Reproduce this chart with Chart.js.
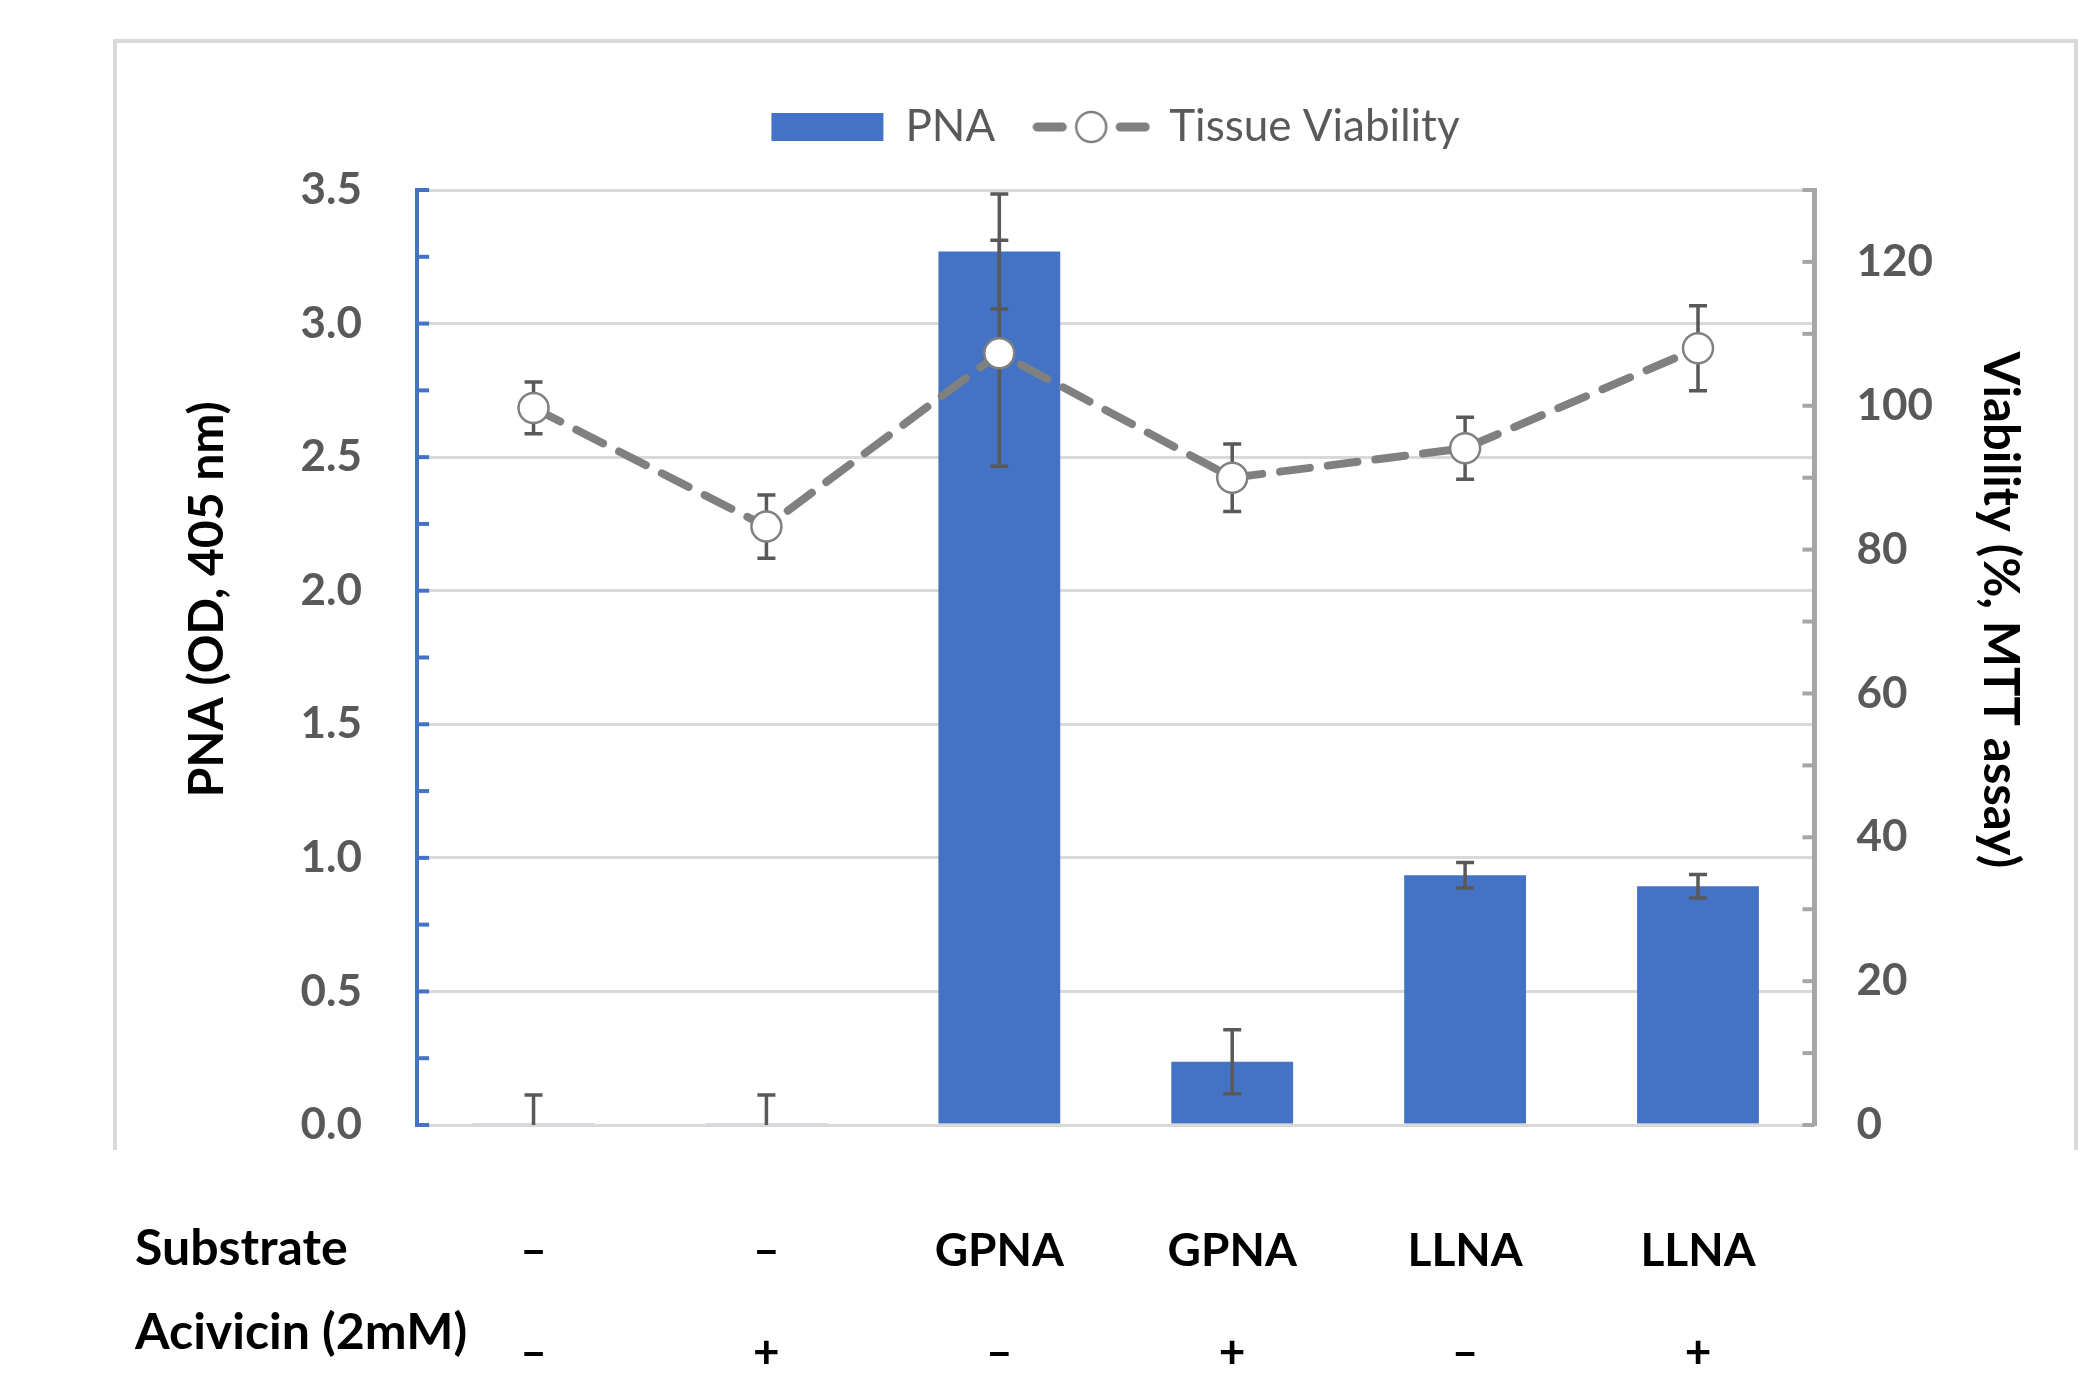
<!DOCTYPE html>
<html>
<head>
<meta charset="utf-8">
<script src="https://cdn.jsdelivr.net/npm/chart.js@4/dist/chart.umd.min.js"></script>
<style>
  html, body { margin: 0; padding: 0; background: #fff; }
  #wrap { width: 2097px; height: 1374px; }
</style>
</head>
<body>
<div id="wrap"><canvas id="pnaChart" width="2097" height="1374"></canvas></div>
<script>
// values
const substrate = ['–', '–', 'GPNA', 'GPNA', 'LLNA', 'LLNA'];
const acivicin = ['–', '+', '–', '+', '–', '+'];
const rowHeaders = ['Substrate', 'Acivicin (2mM)'];
const pnaValues = [0.005, 0.005, 3.27, 0.237, 0.935, 0.894];
const pnaErrors = [0.107, 0.107, 0.215, 0.12, 0.048, 0.044];
const viabilityValues = [99.7, 83.2, 107.3, 90.0, 94.1, 108.0];
const viabilityErrors = [3.6, 4.4, 15.7, 4.7, 4.3, 5.9];

const categories = substrate.map((s, i) => [s, acivicin[i]]);

const BLUE = '#4472C4';
const LINE_GREY = '#808080';
const TEXT_GREY = '#595959';

// legend symbol for the dashed line with open marker
function lineIcon() {
    const c = document.createElement('canvas');
    c.width = 118; c.height = 36;
    const g = c.getContext('2d');
    g.strokeStyle = LINE_GREY;
    g.lineCap = 'round';
    g.lineWidth = 9;
    g.beginPath();
    g.moveTo(5, 18); g.lineTo(30, 18);
    g.moveTo(88, 18); g.lineTo(113, 18);
    g.stroke();
    g.beginPath();
    g.ellipse(59, 18, 15, 15, 0, 0, Math.PI * 2);
    g.fillStyle = '#fff';
    g.fill();
    g.lineWidth = 2.5;
    g.stroke();
    return c;
}
const lineLegendIcon = lineIcon();

// error bars, drawn after the bars and before the line
const errorBars = {
    id: 'errorBars',
    afterDatasetDraw(chart, args) {
        if (args.index !== 0) return;
        const ctx = chart.ctx;
        const xs = chart.scales.x;
        const drawSet = (axisId, values, errors) => {
            const ys = chart.scales[axisId];
            values.forEach((v, i) => {
                const x = xs.getPixelForValue(i);
                const hi = ys.getPixelForValue(v + errors[i]);
                const clipped = v - errors[i] < 0;
                const lo = ys.getPixelForValue(Math.max(v - errors[i], 0));
                ctx.beginPath();
                ctx.moveTo(x, lo); ctx.lineTo(x, hi);
                ctx.moveTo(x - 9, hi); ctx.lineTo(x + 9, hi);
                if (!clipped) { ctx.moveTo(x - 9, lo); ctx.lineTo(x + 9, lo); }
                ctx.stroke();
            });
        };
        ctx.save();
        ctx.strokeStyle = TEXT_GREY;
        ctx.lineWidth = 3.5;
        drawSet('y', pnaValues, pnaErrors);
        drawSet('y2', viabilityValues, viabilityErrors);
        ctx.restore();
    }
};

// tick marks pointing into the plot
const innerTicks = {
    id: 'innerTicks',
    afterDraw(chart) {
        const ctx = chart.ctx;
        const area = chart.chartArea;
        ctx.save();
        ctx.lineWidth = 4;
        ctx.strokeStyle = BLUE;
        chart.scales.y.ticks.forEach(t => {
            const y = chart.scales.y.getPixelForValue(t.value);
            ctx.beginPath(); ctx.moveTo(area.left, y); ctx.lineTo(area.left + 12, y); ctx.stroke();
        });
        ctx.strokeStyle = '#A6A6A6';
        chart.scales.y2.ticks.forEach(t => {
            const y = chart.scales.y2.getPixelForValue(t.value);
            ctx.beginPath(); ctx.moveTo(area.right, y); ctx.lineTo(area.right - 12, y); ctx.stroke();
        });
        ctx.restore();
    }
};

// outer frame and the row names of the table under the chart
const frameAndRows = {
    id: 'frameAndRows',
    beforeDraw(chart) {
        const ctx = chart.ctx;
        ctx.save();
        ctx.strokeStyle = '#D9D9D9';
        ctx.lineWidth = 4;
        ctx.beginPath();
        ctx.moveTo(115, 1150); ctx.lineTo(115, 41); ctx.lineTo(2076, 41); ctx.lineTo(2076, 1150);
        ctx.stroke();
        ctx.restore();
    },
    afterDraw(chart) {
        const ctx = chart.ctx;
        const xs = chart.scales.x;
        const y1 = xs.top + 124;
        ctx.save();
        ctx.fillStyle = '#000';
        ctx.font = 'bold 50px Lato';
        ctx.textBaseline = 'middle';
        ctx.textAlign = 'left';
        ctx.fillText(rowHeaders[0], 135, y1);
        ctx.fillText(rowHeaders[1], 135, y1 + 84);
        ctx.restore();
    }
};

// extra room under the legend, and nudge it a bit to the right
const legendTweak = {
    id: 'legendTweak',
    beforeInit(chart) {
        const legend = chart.legend;
        const fit = legend.fit;
        legend.fit = function() {
            fit.call(this);
            this.height += 31;
        };
        const draw = legend.draw;
        legend.draw = function() {
            this.left += 14; this.right += 14;
            draw.call(this);
            this.left -= 14; this.right -= 14;
        };
    }
};

new Chart(document.getElementById('pnaChart'), {
    data: {
        labels: categories,
        datasets: [
            {
                type: 'bar',
                label: 'PNA',
                data: pnaValues,
                yAxisID: 'y',
                backgroundColor: BLUE,
                barPercentage: 1,
                categoryPercentage: 0.523,
                order: 1
            },
            {
                type: 'line',
                label: 'Tissue Viability',
                data: viabilityValues,
                yAxisID: 'y2',
                borderColor: LINE_GREY,
                borderWidth: 8,
                borderDash: [30, 18],
                borderCapStyle: 'round',
                tension: 0,
                pointRadius: 15,
                pointBackgroundColor: '#fff',
                pointBorderColor: LINE_GREY,
                pointBorderWidth: 2.5,
                order: 0
            }
        ]
    },
    options: {
        responsive: false,
        animation: false,
        devicePixelRatio: 1,
        layout: { padding: { left: 179, right: 73, top: 65, bottom: 0 } },
        plugins: {
            tooltip: { enabled: false },
            legend: {
                position: 'top',
                labels: {
                    usePointStyle: true,
                    pointStyleWidth: 112,
                    boxHeight: 28,
                    padding: 40,
                    color: TEXT_GREY,
                    font: { family: 'Lato', size: 44 },
                    sort: (a, b) => a.datasetIndex - b.datasetIndex,
                    generateLabels(chart) {
                        const items = Chart.defaults.plugins.legend.labels.generateLabels(chart);
                        items.forEach(it => {
                            it.pointStyle = it.datasetIndex === 0 ? 'rect' : lineLegendIcon;
                            it.lineWidth = 0;
                        });
                        return items;
                    }
                }
            }
        },
        scales: {
            x: {
                grid: { display: false },
                border: { display: false },
                ticks: {
                    color: '#000',
                    font: { family: 'Lato', size: 46, weight: 'bold', lineHeight: 2.2 },
                    padding: 68,
                    maxRotation: 0,
                    autoSkip: false
                },
                afterFit(s) { s.height = 249; }
            },
            y: {
                position: 'left',
                min: 0,
                max: 3.5,
                ticks: {
                    stepSize: 0.25,
                    callback: v => (Math.round(v * 100) % 50 === 0 ? v.toFixed(1) : ''),
                    color: TEXT_GREY,
                    font: { family: 'Lato', size: 44, weight: 'bold' },
                    padding: 55
                },
                grid: {
                    color: c => (Math.round(c.tick.value * 100) % 50 === 0 ? '#D9D9D9' : 'rgba(0,0,0,0)'),
                    lineWidth: 3,
                    drawTicks: false
                },
                border: { color: BLUE, width: 4 },
                title: {
                    display: true,
                    // leading spaces lift the title a little above the axis middle, as in the figure
                    text: ' '.repeat(10) + 'PNA (OD, 405 nm)',
                    color: '#000',
                    font: { family: 'Lato', size: 48, weight: 'bold' },
                    padding: { top: 0, bottom: 9 }
                }
            },
            y2: {
                position: 'right',
                min: 0,
                max: 130,
                ticks: {
                    stepSize: 10,
                    callback: v => (v % 20 === 0 ? String(v) : ''),
                    color: TEXT_GREY,
                    font: { family: 'Lato', size: 44, weight: 'bold' },
                    padding: 42
                },
                grid: { drawOnChartArea: false, drawTicks: false },
                border: { color: '#A6A6A6', width: 5 },
                title: {
                    display: true,
                    text: 'Viability (%, MTT assay)' + ' '.repeat(8),
                    color: '#000',
                    font: { family: 'Lato', size: 49, weight: 'bold', lineHeight: 1 },
                    padding: { top: 0, bottom: 0 }
                }
            }
        }
    },
    plugins: [errorBars, innerTicks, frameAndRows, legendTweak]
});
</script>
</body>
</html>
